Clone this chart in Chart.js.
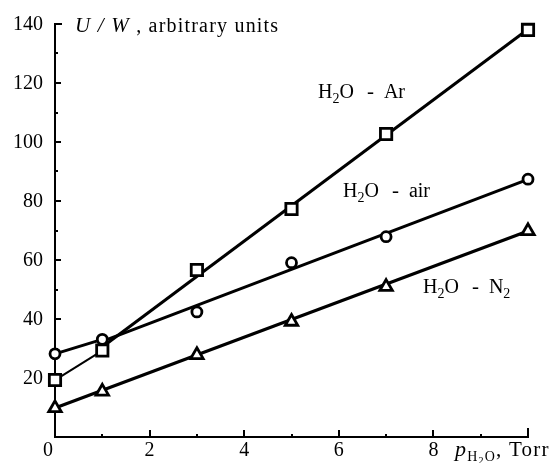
<!DOCTYPE html>
<html>
<head>
<meta charset="utf-8">
<script src="https://cdn.jsdelivr.net/npm/chart.js@4.4.0/dist/chart.umd.min.js"></script>
<style>
  html, body { margin: 0; padding: 0; background: #fff; }
  #wrap { position: relative; width: 552px; height: 463px; }
</style>
</head>
<body>
<div id="wrap"><canvas id="chart"></canvas></div>
<script>
// water vapour pressure, Torr
const pressure = [0, 1, 3, 5, 7, 10];

// measured U/W, arbitrary units
const argonValues    = [19.3, 29.3, 56.6, 77.3, 102.7, 138.0];
const airValues      = [28.2, 33.1, 42.4, 59.1, 67.9, 87.4];
const nitrogenValues = [9.8, 15.4, 27.8, 39.1, 50.9, 69.8];

// straight lines drawn through the points: [x, y] pairs
const argonLowLine    = [[0, 19.3], [1, 29.3]];
const argonLine       = [[1, 30.5], [10, 138.2]];
const airLowLine      = [[0, 28.2], [1, 33.1]];
const airLine         = [[1, 32.4], [10, 87.3]];
const nitrogenLine    = [[0, 9.8], [10, 69.8]];

// axis ticks
const xTickLabels = [0, 2, 4, 6, 8];
const yTickLabels = [20, 40, 60, 80, 100, 120, 140];
const xRange = [0, 10];
const yRange = [0, 140];

// curve labels
const curveLabels = [
  { x: 318, y: 98,  gas: 'Ar' },
  { x: 343, y: 197, gas: 'air' },
  { x: 423, y: 293, gas: 'N', sub: '2' }
];

const SERIF = '"Liberation Serif", "Times New Roman", serif';

function toPoints(xs, ys) {
  return xs.map((x, i) => ({ x: x, y: ys[i] }));
}
function pairsToPoints(pairs) {
  return pairs.map(p => ({ x: p[0], y: p[1] }));
}

function lineSet(pairs, width) {
  return {
    type: 'line',
    data: pairsToPoints(pairs),
    borderColor: '#000',
    borderWidth: width,
    pointRadius: 0,
    showLine: true,
    fill: false,
    clip: false,
    order: 2
  };
}

function markerSet(values, style, radius) {
  return {
    type: 'scatter',
    data: toPoints(pressure, values),
    pointStyle: style,
    pointRadius: radius,
    pointBorderWidth: 2.8,
    pointBorderColor: '#000',
    pointBackgroundColor: '#fff',
    showLine: false,
    clip: false,
    order: 1
  };
}

// draws a run of text pieces, some shifted down as subscripts;
// a piece may carry extra space before it (gap)
function drawRuns(ctx, runs, x, y, spacing) {
  let cx = x;
  ctx.letterSpacing = (spacing || 0) + 'px';
  runs.forEach(r => {
    cx += r.gap || 0;
    ctx.font = (r.italic ? 'italic ' : '') + r.size + 'px ' + SERIF;
    ctx.fillText(r.t, cx, y + (r.dy || 0));
    cx += ctx.measureText(r.t).width;
  });
  ctx.letterSpacing = '0px';
}

const axesPlugin = {
  id: 'axesPlugin',
  beforeDatasetsDraw(chart) {
    const ctx = chart.ctx;
    const xs = chart.scales.x, ys = chart.scales.y;
    const left = xs.getPixelForValue(xRange[0]);
    const right = xs.getPixelForValue(xRange[1]);
    const bottom = ys.getPixelForValue(yRange[0]);
    const top = ys.getPixelForValue(yRange[1]);

    ctx.save();
    ctx.strokeStyle = '#000';
    ctx.lineWidth = 2;
    ctx.lineCap = 'square';
    ctx.beginPath();
    ctx.moveTo(left + 6, top);
    ctx.lineTo(left, top);
    ctx.lineTo(left, bottom);
    ctx.lineTo(right, bottom);
    ctx.lineTo(right, bottom - 8);
    ctx.stroke();

    // inward ticks, long on labelled values
    ctx.lineCap = 'butt';
    ctx.beginPath();
    for (let v = 10; v < yRange[1]; v += 10) {
      const py = Math.round(ys.getPixelForValue(v));
      const len = v % 20 === 0 ? 6 : 3;
      ctx.moveTo(left, py);
      ctx.lineTo(left + len, py);
    }
    for (let v = 1; v < xRange[1]; v += 1) {
      const px = Math.round(xs.getPixelForValue(v));
      const len = v % 2 === 0 ? 7 : 3;
      ctx.moveTo(px, bottom);
      ctx.lineTo(px, bottom - len);
    }
    ctx.stroke();
    ctx.restore();
  },
  afterDraw(chart) {
    const ctx = chart.ctx;
    const xs = chart.scales.x, ys = chart.scales.y;
    const left = xs.getPixelForValue(xRange[0]);
    const bottom = ys.getPixelForValue(yRange[0]);

    ctx.save();
    ctx.fillStyle = '#000';
    ctx.font = '20px ' + SERIF;

    ctx.textAlign = 'right';
    ctx.textBaseline = 'middle';
    yTickLabels.forEach(v => {
      ctx.fillText(String(v), left - 12, ys.getPixelForValue(v) + 1);
    });

    ctx.textAlign = 'center';
    ctx.textBaseline = 'alphabetic';
    xTickLabels.forEach(v => {
      const shift = v === 0 ? -7 : 0;
      ctx.fillText(String(v), xs.getPixelForValue(v) + shift, bottom + 19);
    });

    ctx.textAlign = 'left';
    // y axis title
    drawRuns(ctx, [
      { t: 'U', size: 21, italic: true },
      { t: ' / ', size: 21, italic: true },
      { t: 'W', size: 21, italic: true },
      { t: ' , arbitrary units', size: 20 }
    ], 75, 32, 1.2);

    // x axis title
    drawRuns(ctx, [
      { t: 'p', size: 22, italic: true },
      { t: 'H', size: 14, dy: 5 },
      { t: '2', size: 10, dy: 8 },
      { t: 'O', size: 14, dy: 5 },
      { t: ', Torr', size: 21 }
    ], 455, bottom + 19, 1.2);

    // curve names
    curveLabels.forEach(c => {
      const runs = [
        { t: 'H', size: 20 },
        { t: '2', size: 14, dy: 5 },
        { t: 'O', size: 20 },
        { t: '-', size: 21, gap: 13 },
        { t: c.gas, size: 20, gap: 10 }
      ];
      if (c.sub) runs.push({ t: c.sub, size: 14, dy: 5 });
      drawRuns(ctx, runs, c.x, c.y, 0);
    });
    ctx.restore();
  }
};

new Chart(document.getElementById('chart'), {
  type: 'scatter',
  data: {
    datasets: [
      lineSet(argonLowLine, 2),
      lineSet(argonLine, 3),
      lineSet(airLowLine, 3),
      lineSet(airLine, 3),
      lineSet(nitrogenLine, 3.2),
      markerSet(argonValues, 'rect', 8),
      markerSet(airValues, 'circle', 5),
      markerSet(nitrogenValues, 'triangle', 7.2)
    ]
  },
  options: {
    responsive: true,
    maintainAspectRatio: false,
    animation: false,
    layout: { padding: { left: 55, right: 24, top: 24, bottom: 26 } },
    plugins: { legend: { display: false }, tooltip: { enabled: false } },
    scales: {
      x: { type: 'linear', min: xRange[0], max: xRange[1], display: false },
      y: { type: 'linear', min: yRange[0], max: yRange[1], display: false }
    }
  },
  plugins: [axesPlugin]
});
</script>
</body>
</html>
